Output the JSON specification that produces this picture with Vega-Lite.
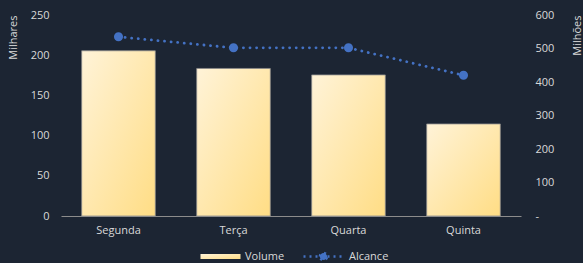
{
  "$schema": "https://vega.github.io/schema/vega-lite/v6.json",
  "autosize": "none",
  "width": 460,
  "height": 201,
  "padding": {"left": 61, "top": 15, "right": 62, "bottom": 47},
  "background": "#1c2533",
  "config": {
    "view": {"stroke": null},
    "font": "Open Sans",
    "axis": {"labelColor": "#d9d9d9", "titleColor": "#d9d9d9", "labelFontSize": 11, "titleFontSize": 11, "titleFontWeight": "normal", "grid": false, "ticks": false, "domain": false, "labelFont": "Open Sans", "titleFont": "Open Sans"},
    "legend": {"labelColor": "#d9d9d9", "labelFontSize": 11, "labelFont": "Open Sans", "orient": "none", "direction": "horizontal", "title": null, "padding": 0}
  },
  "data": {"values": [
    {"dia": "Segunda", "volume": 205.5, "alcance": 535},
    {"dia": "Terça", "volume": 183.5, "alcance": 502},
    {"dia": "Quarta", "volume": 175.5, "alcance": 502},
    {"dia": "Quinta", "volume": 114.5, "alcance": 420}
  ]},
  "encoding": {
    "x": {"field": "dia", "type": "nominal", "sort": null,
      "scale": {"paddingInner": 0.36, "paddingOuter": 0.18},
      "axis": {"title": null, "labelAngle": 0, "domain": true, "domainColor": "#8c8c8c", "labelPadding": 8}}
  },
  "layer": [
    {
      "mark": {"type": "bar", "stroke": "#8a8a8a", "strokeWidth": 0.8,
        "fill": {"gradient": "linear", "x1": 0, "y1": 0, "x2": 1, "y2": 1, "stops": [{"offset": 0, "color": "#fff3d8"}, {"offset": 1, "color": "#ffdd85"}]}},
      "encoding": {
        "y": {"field": "volume", "type": "quantitative", "scale": {"domain": [0, 250]},
          "axis": {"title": "Milhares", "values": [0, 50, 100, 150, 200, 250], "titleAnchor": "end", "titlePadding": 12, "labelPadding": 12}},
        "opacity": {"datum": "Volume", "type": "nominal",
          "scale": {"domain": ["Volume"], "range": [1]},
          "legend": {"legendX": 154, "legendY": 236, "symbolType": "M-10,-1.3H10V1.3H-10Z", "symbolSize": 16, "symbolStrokeWidth": 0, "symbolFillColor": "#ffe4a0", "labelOffset": 19}}
      }
    },
    {
      "mark": {"type": "line", "strokeWidth": 2.8, "strokeDash": [0.1, 6.5], "strokeCap": "round", "point": {"filled": true, "size": 50, "color": "#4472c4"}},
      "encoding": {
        "y": {"field": "alcance", "type": "quantitative", "scale": {"domain": [0, 600]},
          "axis": {"title": "Milhões", "orient": "right", "values": [0, 100, 200, 300, 400, 500, 600], "labelExpr": "datum.value == 0 ? '-' : datum.label", "titleAngle": 270, "titleAnchor": "end", "titlePadding": 29, "labelPadding": 14}},
        "stroke": {"datum": "Alcance", "type": "nominal",
          "scale": {"domain": ["Alcance"], "range": ["#4472c4"]},
          "legend": {"legendX": 257, "legendY": 236, "symbolType": "M-10,0H10M-1.8,0A1.8,1.8 0 1 1 1.8,0A1.8,1.8 0 1 1 -1.8,0Z", "symbolSize": 16, "symbolStrokeWidth": 2.5, "symbolDash": [2, 4], "symbolFillColor": "#4472c4", "labelOffset": 20}}
      }
    }
  ],
  "resolve": {"scale": {"y": "independent"}}
}
